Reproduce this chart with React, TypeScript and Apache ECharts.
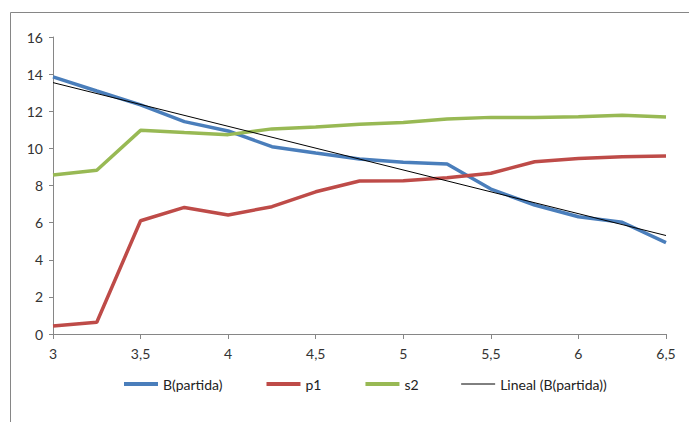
import React, { useEffect, useRef } from "react";
import * as echarts from "echarts";

const xValues = [3, 3.25, 3.5, 3.75, 4, 4.25, 4.5, 4.75, 5, 5.25, 5.5, 5.75, 6, 6.25, 6.5];
const bPartida = [13.85, 13.09, 12.34, 11.44, 10.94, 10.09, 9.75, 9.43, 9.25, 9.16, 7.81, 6.95, 6.32, 6.02, 4.92];
const p1 = [0.43, 0.63, 6.1, 6.82, 6.41, 6.86, 7.66, 8.24, 8.26, 8.42, 8.66, 9.28, 9.46, 9.55, 9.59];
const s2 = [8.57, 8.82, 10.97, 10.85, 10.74, 11.05, 11.15, 11.3, 11.39, 11.58, 11.67, 11.67, 11.71, 11.78, 11.69];

const FONT = "Lato, 'Liberation Sans', sans-serif";

// least-squares linear trend of B(partida)
function linearTrend(xs: number[], ys: number[]): number[][] {
  const n = xs.length;
  const mx = xs.reduce((a, b) => a + b, 0) / n;
  const my = ys.reduce((a, b) => a + b, 0) / n;
  let sxy = 0;
  let sxx = 0;
  for (let i = 0; i < n; i++) {
    sxy += (xs[i] - mx) * (ys[i] - my);
    sxx += (xs[i] - mx) * (xs[i] - mx);
  }
  const slope = sxy / sxx;
  const icpt = my - slope * mx;
  const x0 = xs[0];
  const x1 = xs[n - 1];
  return [
    [x0, icpt + slope * x0],
    [x1, icpt + slope * x1],
  ];
}

const pairs = (ys: number[]) => xValues.map((x, i) => [x, ys[i]]);

export default function App() {
  const ref = useRef<HTMLDivElement>(null);

  useEffect(() => {
    if (!ref.current) return;
    const chart = echarts.init(ref.current, undefined, { renderer: "svg" });
    const axisColor = "#868686";
    chart.setOption({
      animation: false,
      textStyle: { fontFamily: FONT },
      graphic: [
        {
          type: "rect",
          shape: { x: 10.5, y: 12.5, width: 720, height: 450 },
          style: { fill: "none", stroke: "#868686", lineWidth: 1 },
          silent: true,
        },
      ],
      grid: { left: 53, right: 23, top: 37, bottom: 88 },
      legend: {
        left: 122,
        top: 377,
        padding: 0,
        itemWidth: 34,
        itemHeight: 10,
        itemGap: 42,
        itemStyle: { opacity: 0 },
        textStyle: { fontFamily: FONT, fontSize: 14, color: "#222" },
        data: [
          { name: "B(partida)", lineStyle: { width: 4 } },
          { name: "p1", lineStyle: { width: 4 } },
          { name: "s2", lineStyle: { width: 4 } },
          { name: "Lineal (B(partida))", lineStyle: { width: 1 } },
        ],
      },
      xAxis: {
        type: "value",
        min: 3,
        max: 6.5,
        interval: 0.5,
        splitLine: { show: false },
        axisLine: { lineStyle: { color: axisColor, width: 1 } },
        axisTick: { show: true, length: 5, lineStyle: { color: axisColor } },
        axisLabel: {
          color: "#333",
          fontSize: 14,
          fontFamily: FONT,
          margin: 12,
          formatter: (v: number) => String(v).replace(".", ","),
        },
      },
      yAxis: {
        type: "value",
        min: 0,
        max: 16,
        interval: 2,
        splitLine: { show: false },
        axisLine: { show: true, lineStyle: { color: axisColor, width: 1 } },
        axisTick: { show: true, length: 4, lineStyle: { color: axisColor } },
        axisLabel: { color: "#333", fontSize: 14, fontFamily: FONT, margin: 10 },
      },
      series: [
        {
          name: "B(partida)",
          type: "line",
          data: pairs(bPartida),
          symbol: "none",
          color: "#4A7EBB",
          lineStyle: { width: 3.5, color: "#4A7EBB" },
          z: 3,
        },
        {
          name: "p1",
          type: "line",
          data: pairs(p1),
          symbol: "none",
          color: "#BE4B48",
          lineStyle: { width: 3.5, color: "#BE4B48" },
          z: 3,
        },
        {
          name: "s2",
          type: "line",
          data: pairs(s2),
          symbol: "none",
          color: "#98B954",
          lineStyle: { width: 3.5, color: "#98B954" },
          z: 3,
        },
        {
          name: "Lineal (B(partida))",
          type: "line",
          data: linearTrend(xValues, bPartida),
          symbol: "none",
          color: "#000000",
          lineStyle: { width: 1, color: "#000000" },
          z: 4,
        },
      ],
    });
    return () => chart.dispose();
  }, []);

  return (
    <div
      ref={ref}
      style={{ position: "absolute", left: 0, top: 0, width: 689, height: 422, background: "#fff" }}
    />
  );
}
